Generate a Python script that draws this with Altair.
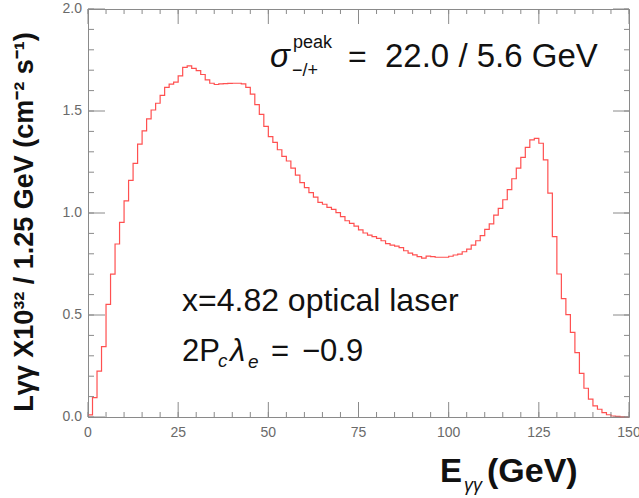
import altair as alt
import pandas as pd

# ---------------- data ----------------
bin_width = 1.25  # GeV per bin
luminosity = [
    0.010, 0.095, 0.225, 0.345, 0.552, 0.700, 0.848, 0.954, 1.059, 1.160,
    1.243, 1.338, 1.403, 1.461, 1.505, 1.538, 1.577, 1.616, 1.632, 1.642,
    1.672, 1.714, 1.721, 1.709, 1.698, 1.679, 1.653, 1.636, 1.630, 1.633,
    1.634, 1.635, 1.636, 1.636, 1.633, 1.616, 1.583, 1.531, 1.483, 1.425,
    1.374, 1.346, 1.310, 1.278, 1.255, 1.220, 1.186, 1.149, 1.124, 1.100,
    1.078, 1.052, 1.043, 1.028, 1.018, 1.002, 0.982, 0.962, 0.949, 0.936,
    0.917, 0.902, 0.892, 0.884, 0.876, 0.864, 0.850, 0.843, 0.838, 0.830,
    0.815, 0.803, 0.795, 0.786, 0.779, 0.789, 0.786, 0.783, 0.783, 0.783,
    0.788, 0.794, 0.798, 0.810, 0.823, 0.843, 0.864, 0.889, 0.920, 0.947,
    0.990, 1.023, 1.065, 1.115, 1.168, 1.220, 1.273, 1.322, 1.358, 1.366,
    1.342, 1.260, 1.097, 0.884, 0.701, 0.580, 0.502, 0.415, 0.316, 0.214,
    0.141, 0.088, 0.055, 0.038, 0.021, 0.011, 0.005, 0.003, 0.001, 0.000,
]
x_major = [0, 25, 50, 75, 100, 125, 150]
x_minor = [0, 5, 10, 15, 20, 25, 30, 35, 40, 45, 50, 55, 60, 65, 70, 75,
           80, 85, 90, 95, 100, 105, 110, 115, 120, 125, 130, 135, 140, 145, 150]
y_major = [0.0, 0.5, 1.0, 1.5, 2.0]
y_minor = [0.0, 0.1, 0.2, 0.3, 0.4, 0.5, 0.6, 0.7, 0.8, 0.9, 1.0,
           1.1, 1.2, 1.3, 1.4, 1.5, 1.6, 1.7, 1.8, 1.9, 2.0]

edges = [i * bin_width for i in range(len(luminosity) + 1)]
df = pd.DataFrame({"E": edges, "L": luminosity + [luminosity[-1]]})

W, H = 541, 408
X0, X1, Y0, Y1 = 0.0, 150.0, 0.0, 2.0
FONT = "Liberation Sans"
AX_GRAY = "#8a8a8a"
LBL_GRAY = "#6a6a6a"

xs = alt.Scale(domain=[X0, X1], nice=False, zero=False)
ys = alt.Scale(domain=[Y0, Y1], nice=False, zero=False)

# inward tick segments built from the tick arrays (lengths in pixels -> data units)
px_x = (X1 - X0) / W
px_y = (Y1 - Y0) / H
rows = []
for vals, length in ((x_major, 15), (x_minor, 5)):
    for v in vals:
        rows.append({"a": v, "a2": v, "b": Y0, "b2": Y0 + length * px_y})   # bottom
        rows.append({"a": v, "a2": v, "b": Y1, "b2": Y1 - length * px_y})   # top
for vals, ll, lr in ((y_major, 17, 16), (y_minor, 6, 5)):
    for v in vals:
        rows.append({"a": X0, "a2": X0 + ll * px_x, "b": v, "b2": v})       # left
        rows.append({"a": X1, "a2": X1 - lr * px_x, "b": v, "b2": v})       # right
tick_df = pd.DataFrame(rows)

ticks = alt.Chart(tick_df).mark_rule(color=AX_GRAY, strokeWidth=1).encode(
    x=alt.X("a:Q", scale=xs, axis=None), x2="a2:Q",
    y=alt.Y("b:Q", scale=ys, axis=None), y2="b2:Q",
)

# histogram line
hist = alt.Chart(df).mark_line(
    interpolate="step-after", color="#ff5050", strokeWidth=1.2
).encode(
    x=alt.X("E:Q", scale=xs, axis=None),
    y=alt.Y("L:Q", scale=ys, axis=None),
)

# tick labels placed through the scales
x_labels = alt.Chart(alt.Data(values=[{"xl": v} for v in x_major])).mark_text(
    font=FONT, fontSize=14, color=LBL_GRAY, align="center", baseline="top"
).encode(
    x=alt.X("xl:Q", scale=xs, axis=None),
    y=alt.value(H + 9),
    text=alt.Text("xl:Q", format="d"),
)
y_labels = alt.Chart(alt.Data(values=[{"yl": v} for v in y_major])).mark_text(
    font=FONT, fontSize=14, color=LBL_GRAY, align="right", baseline="middle"
).encode(
    y=alt.Y("yl:Q", scale=ys, axis=None),
    x=alt.value(-6),
    text=alt.Text("yl:Q", format=".1f"),
)


def label(text, x, y, size, weight="normal", style="normal", angle=0,
          align="left", baseline="alphabetic", color="#111111"):
    kw = dict(text=text, font=FONT, fontSize=size, fontWeight=weight,
              fontStyle=style, align=align, baseline=baseline, color=color)
    if angle:
        kw["angle"] = angle
    return alt.Chart(alt.Data(values=[{}])).mark_text(**kw).encode(
        x=alt.value(x), y=alt.value(y))


texts = [
    # axis titles
    label("Lγγ X10³² / 1.25 GeV (cm⁻² s⁻¹)", -63, 213, 27, weight="bold",
          angle=270, align="center", baseline="middle"),
    label("E", 352, 473, 33, weight="bold"),
    label("γγ", 376, 482, 18, style="italic"),
    label("(GeV)", 399, 473, 34, weight="bold"),
    # sigma annotation
    label("σ", 182, 58, 33, style="italic"),
    label("peak", 205, 39, 18),
    label("−/+", 204, 67, 18),
    label("=", 260, 58, 32),
    label("22.0 / 5.6 GeV", 297, 58, 33),
    # laser annotation
    label("x=4.82 optical laser", 94, 302, 32),
    label("2P", 94, 352, 31),
    label("c", 130, 358, 19, style="italic"),
    label("λ", 142, 352, 31, style="italic"),
    label("e", 160, 359, 19, style="italic"),
    label("=", 183, 352, 31),
    label("−0.9", 214, 352, 31),
]

chart = alt.layer(hist, ticks, x_labels, y_labels, *texts).properties(
    width=W, height=H,
    autosize=alt.AutoSizeParams(type="none"),
    padding={"left": 88, "top": 9, "right": 10, "bottom": 81},
    background="white",
).configure_view(stroke=AX_GRAY, strokeWidth=1)

chart.save("out.html", embed_options={"renderer": "svg", "actions": False})
